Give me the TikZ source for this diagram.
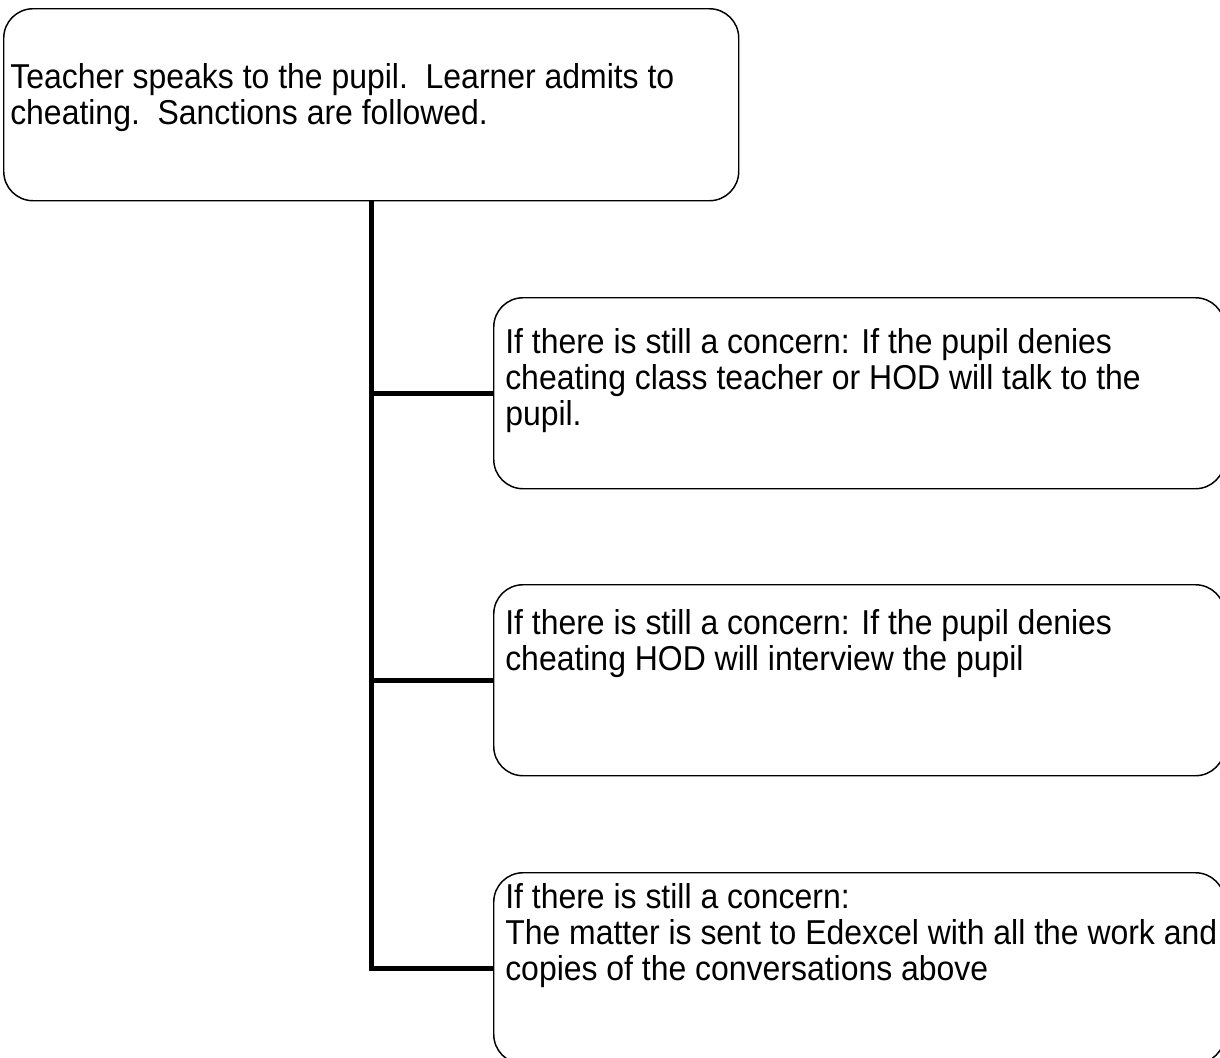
\documentclass[tikz,border=0pt]{standalone}
\usepackage{fontspec}
\setmainfont{Liberation Sans}[FakeStretch=0.925]
\newcommand\notefont{\fontsize{25.9pt}{27pt}\selectfont}
\begin{document}
\begin{tikzpicture}[x=0.75pt,y=-0.75pt,
    box/.style={draw,line width=1.1pt,rounded corners=22pt,anchor=north west,
      inner sep=0pt,minimum width=548.25pt,minimum height=143.25pt},
    note/.style={anchor=base west,align=left,inner sep=0pt,font=\notefont}]
      \useasboundingbox (0,0) rectangle (1220,1057);
      \draw
        (3,8) node[box,minimum width=551.25pt,minimum height=144pt] (0){}
        (493,297) node[box] (1){}
        (493,584) node[box] (2){}
        (493,872) node[box] (3){};
      \draw
        (10,124) node[note] (t0){Teacher speaks to the pupil.\ \ Learner admits to\\
          cheating.\ \ Sanctions are followed.}
        (505,425) node[note] (t1){If there is still a concern: If the pupil denies\\
          cheating class teacher or HOD will talk to the\\pupil.}
        (505,670) node[note] (t2){If there is still a concern: If the pupil denies\\
          cheating HOD will interview the pupil}
        (505,980) node[note] (t3){If there is still a concern:\\
          The matter is sent to Edexcel with all the work and\\
          copies of the conversations above};
      \begin{scope}[line width=3.75pt]
        \draw (0.south) |- (3.west);
        \draw (0.south |- 1.west) to (1.west);
        \draw (0.south |- 2.west) to (2.west);
      \end{scope}
    \end{tikzpicture}
\end{document}
